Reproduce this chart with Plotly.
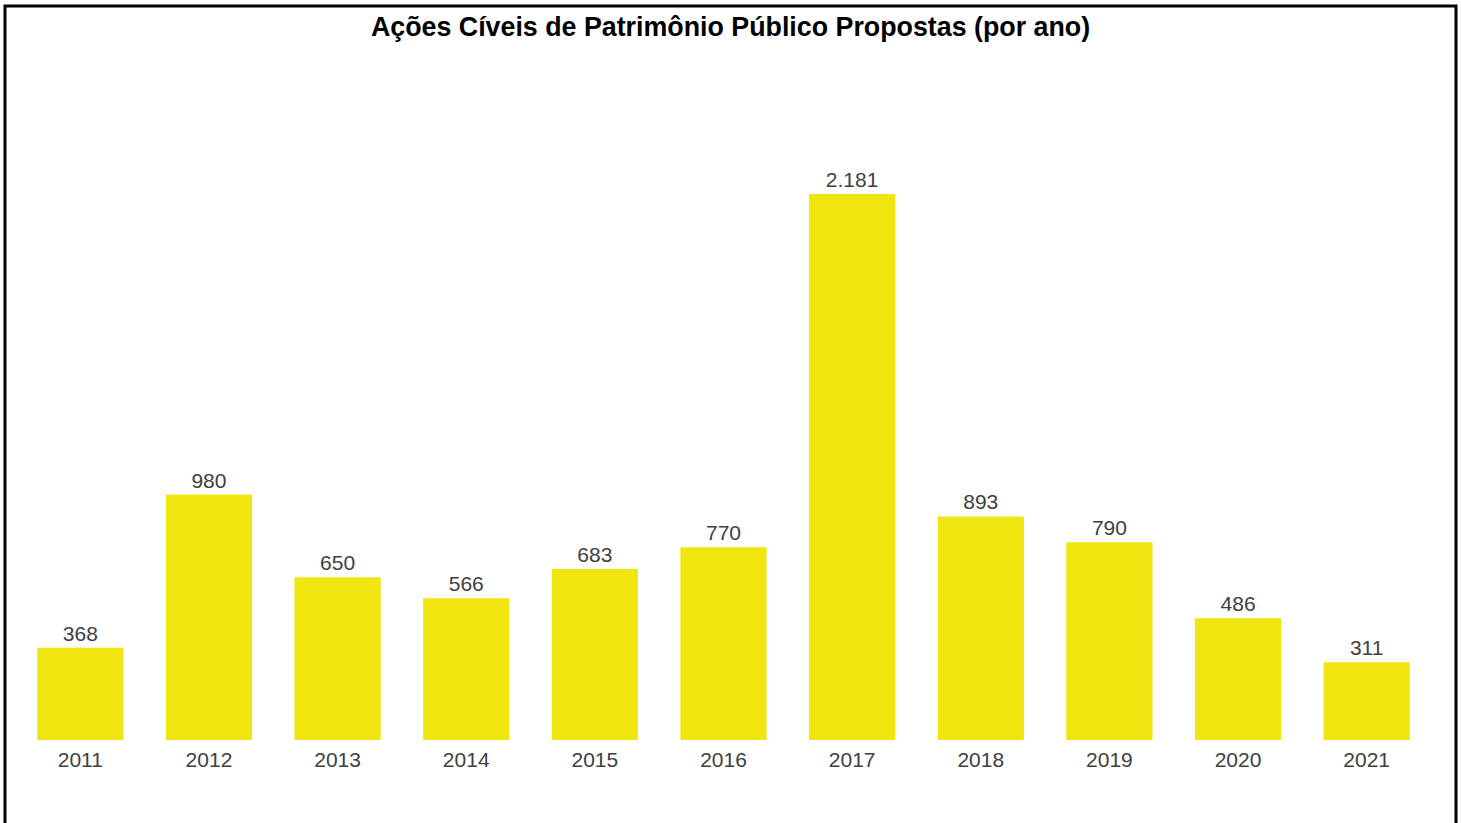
import plotly.graph_objects as go

years = ["2011", "2012", "2013", "2014", "2015", "2016", "2017", "2018", "2019", "2020", "2021"]
acoes = [368, 980, 650, 566, 683, 770, 2181, 893, 790, 486, 311]

W, H = 1461, 823
ml, mr, mt, mb = 16, 30, 114, 83

fig = go.Figure(go.Bar(
    x=years, y=acoes,
    marker=dict(color="#F0E50F", line=dict(width=0)),
    texttemplate="%{y:,}", textposition="outside",
    textfont=dict(family="Liberation Sans, Arial", size=21, color="#404040"),
    cliponaxis=False,
))

pw = W - ml - mr
ph = H - mt - mb
def px2x(p):
    return (p - ml) / pw
def py2y(p):
    return (H - mb - p) / ph

fig.add_shape(type="rect", xref="paper", yref="paper",
              x0=px2x(5), x1=px2x(1456), y0=py2y(840), y1=py2y(6),
              line=dict(color="black", width=3), fillcolor="rgba(0,0,0,0)")

fig.update_layout(
    width=W, height=H,
    margin=dict(l=ml, r=mr, t=mt, b=mb),
    paper_bgcolor="white", plot_bgcolor="white",
    separators=",.",
    bargap=0.33,
    showlegend=False,
    title=dict(text="<b>Ações Cíveis de Patrimônio Público Propostas (por ano)</b>",
               x=0.5, xref="container", y=1 - 27 / H, yanchor="middle",
               font=dict(family="Liberation Sans, Arial", size=26.8, color="black")),
    xaxis=dict(showgrid=False, showline=False, zeroline=False, ticks="",
               tickfont=dict(family="Liberation Sans, Arial", size=21, color="#404040"),
               ticklabelstandoff=5),
    yaxis=dict(visible=False, range=[0, 2500]),
)

fig.write_html("out.html", config={"displayModeBar": False},
               post_script="document.body.style.margin='0';document.body.style.overflow='hidden';")
